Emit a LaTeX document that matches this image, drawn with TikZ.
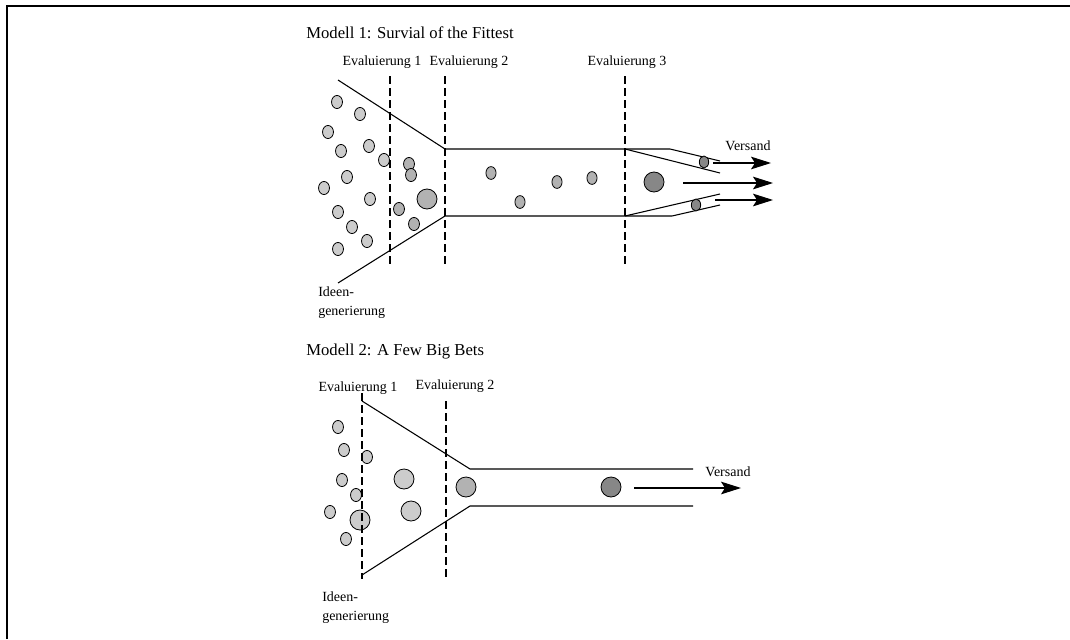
\documentclass[tikz,border=0pt]{standalone}
\usepackage{fontspec}
\setmainfont{Liberation Serif}
\usepackage{xcolor}
\usetikzlibrary{arrows.meta,positioning}

\definecolor{ideafill}{gray}{0.80}
\definecolor{keptfill}{gray}{0.70}
\definecolor{shipfill}{gray}{0.53}

\begin{document}
\begin{tikzpicture}[x=0.75pt,y=-0.75pt,
  wall/.style={line width=0.8pt},
  phase/.style={line width=1.3pt,dash pattern=on 6pt off 3pt},
  ball/.style={draw,line width=0.6pt,fill=#1},
  lbl/.style={font=\fontsize{10.5}{14.2}\selectfont,inner sep=0pt},
  head/.style={font=\fontsize{12.5}{15}\selectfont,inner sep=0pt,anchor=base west},
  ship/.style={line width=0.8pt,-{Stealth[length=15pt,width=9.5pt,inset=3pt]}}
]
\useasboundingbox (0,0) rectangle (1070,639);
\draw[line width=1.3pt] (7,639) -- (7,6) -- (1070,6);

% Modell 1
\node[head] (m1title) at (306,38) {Modell 1: Survial of the Fittest};
\node[lbl,anchor=base] (m1e1) at (382,65) {Evaluierung 1};
\node[lbl,anchor=base] (m1e2) at (469,65) {Evaluierung 2};
\node[lbl,anchor=base] (m1e3) at (627,65) {Evaluierung 3};
\node[lbl,anchor=north west,align=left] (m1src) at (318,287) {Ideen-\\generierung};
\node[lbl] (m1ship) at (748,146) {Versand};

\draw[wall] (338,80) -- (445,149) -- (670,149) -- (720,161);
\draw[wall] (625,149) -- (720,173);
\draw[wall] (338,283) -- (445,216) -- (672,216) -- (720,205);
\draw[wall] (625,216) -- (720,194);

\foreach \x/\y in {337/102,360/114,328/132,369/146,341/151,384/160,347/177,
                   324/188,370/199,338/212,352/227,367/241,338/249}
  \draw[ball=ideafill] (\x,\y) ellipse [x radius=4.1pt,y radius=4.9pt];
\foreach \x/\y in {409/164,411/175,399/209,414/224}
  \draw[ball=keptfill] (\x,\y) ellipse [x radius=4.1pt,y radius=4.9pt];
\draw[ball=keptfill] (427,199) circle [radius=7.5pt];
\foreach \x/\y in {491/173,520/202,557/182,592/178}
  \draw[ball=keptfill] (\x,\y) ellipse [x radius=3.8pt,y radius=4.8pt];
\foreach \x/\y in {704/162,696/205}
  \draw[ball=shipfill] (\x,\y) ellipse [x radius=3.5pt,y radius=4.5pt];
\draw[ball=shipfill] (654,182) circle [radius=7.5pt];

\foreach \x in {390,445,625}
  \draw[phase] (\x,76) -- (\x,264);

\coordinate (m1a1) at (713,163);
\coordinate (m1b1) at (771,163);
\coordinate (m1a2) at (683,183);
\coordinate (m1b2) at (773,183);
\coordinate (m1a3) at (715,200);
\coordinate (m1b3) at (773,200);
\draw[ship] (m1a1) -- (m1b1);
\draw[ship] (m1a2) -- (m1b2);
\draw[ship] (m1a3) -- (m1b3);

% Modell 2
\node[head] (m2title) at (306,355) {Modell 2: A Few Big Bets};
\node[lbl,anchor=base] (m2e1) at (358,391) {Evaluierung 1};
\node[lbl,anchor=base] (m2e2) at (455,389) {Evaluierung 2};
\node[lbl,anchor=north west,align=left] (m2src) at (322,592) {Ideen-\\generierung};
\node[lbl] (m2ship) at (728,472) {Versand};

\draw[wall] (362,401) -- (470,469) -- (693,469);
\draw[wall] (362,575) -- (470,506) -- (693,506);

\foreach \x/\y in {338/427,344/450,367/457,342/480,356/495,330/512,346/539}
  \draw[ball=ideafill] (\x,\y) ellipse [x radius=4.1pt,y radius=4.9pt];
\foreach \x/\y in {404/479,411/511,360/520}
  \draw[ball=ideafill] (\x,\y) circle [radius=7.5pt];
\draw[ball=keptfill] (466,487) circle [radius=7.5pt];
\draw[ball=shipfill] (611,487) circle [radius=7.5pt];

\draw[phase] (362,393) -- (362,579);
\draw[phase] (446,401) -- (446,579);

\coordinate (m2a) at (634,488);
\coordinate (m2b) at (741,488);
\draw[ship] (m2a) -- (m2b);
\end{tikzpicture}
\end{document}
